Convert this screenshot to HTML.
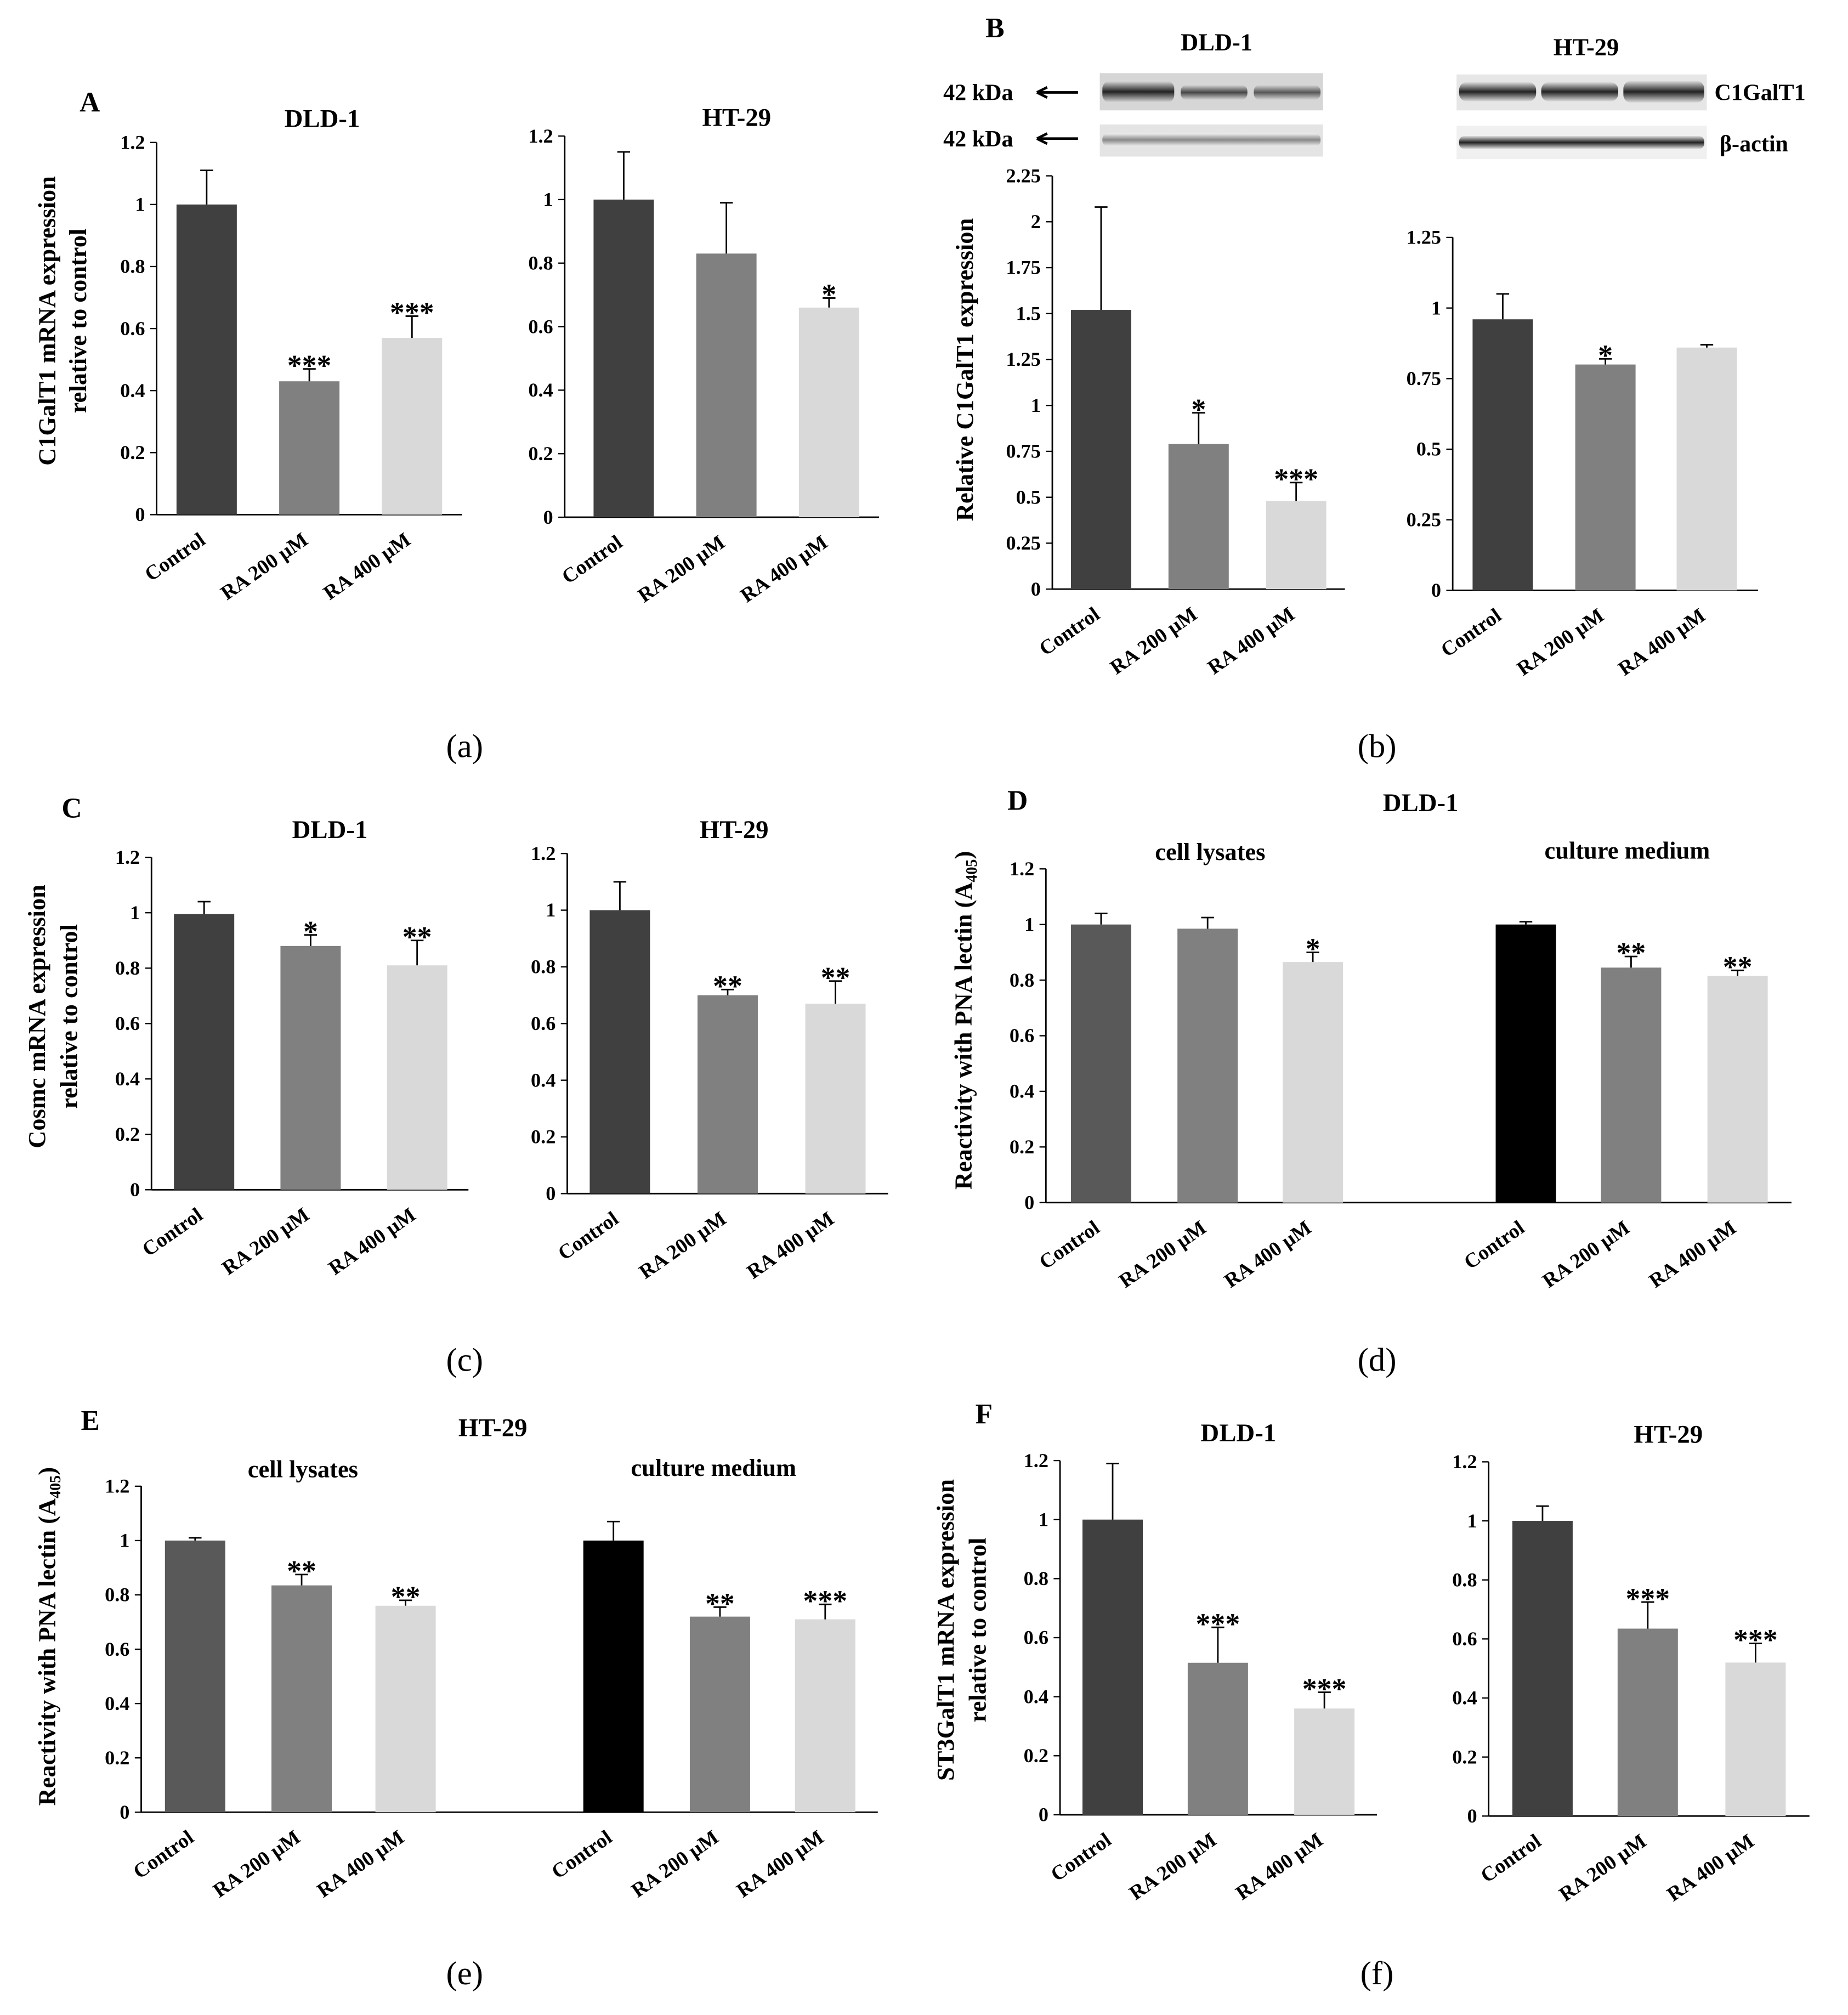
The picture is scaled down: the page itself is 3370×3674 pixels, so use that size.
<!DOCTYPE html>
<html><head><meta charset="utf-8"><style>
html,body{margin:0;padding:0;background:#fff;}
svg{display:block;}
text{font-family:"Liberation Serif",serif;font-weight:bold;fill:#000;}
</style></head><body>
<svg id="fig" width="3370" height="3674" viewBox="0 0 1440 1570" xmlns="http://www.w3.org/2000/svg">
<defs>
<linearGradient id="band" x1="0" y1="0" x2="0" y2="1"><stop offset="0" stop-color="#ddd"/><stop offset="0.5" stop-color="#222"/><stop offset="1" stop-color="#ddd"/></linearGradient>
<linearGradient id="bandL" x1="0" y1="0" x2="0" y2="1"><stop offset="0" stop-color="#eee"/><stop offset="0.5" stop-color="#888"/><stop offset="1" stop-color="#eee"/></linearGradient>
</defs>
<g id="static">
<text x="62" y="87" font-size="22">A</text>
<text x="768" y="29" font-size="22">B</text>
<text x="48" y="637" font-size="22">C</text>
<text x="785" y="631" font-size="22">D</text>
<text x="63" y="1114" font-size="22">E</text>
<text x="760" y="1109" font-size="22">F</text>
<text x="362" y="590" font-size="26" style="font-weight:normal" text-anchor="middle">(a)</text>
<text x="1073" y="590" font-size="26" style="font-weight:normal" text-anchor="middle">(b)</text>
<text x="362" y="1068" font-size="26" style="font-weight:normal" text-anchor="middle">(c)</text>
<text x="1073" y="1068" font-size="26" style="font-weight:normal" text-anchor="middle">(d)</text>
<text x="362" y="1546" font-size="26" style="font-weight:normal" text-anchor="middle">(e)</text>
<text x="1073" y="1546" font-size="26" style="font-weight:normal" text-anchor="middle">(f)</text>
<text x="948" y="39" font-size="19" text-anchor="middle">DLD-1</text>
<text x="1236" y="43" font-size="19" text-anchor="middle">HT-29</text>
<text x="735" y="78" font-size="18">42 kDa</text>
<text x="735" y="114" font-size="18">42 kDa</text>
<path d="M808 72H840M808 72l8-4M808 72l8 4M808 108H840M808 108l8-4M808 108l8 4" stroke="#000" stroke-width="2" fill="none"/>
<text x="1336" y="78" font-size="18">C1GalT1</text>
<text x="1340" y="118" font-size="18">β-actin</text>
<g>
<rect x="857" y="57" width="174" height="29" fill="#d6d6d6"/>
<rect x="859" y="63" width="56" height="17" rx="6" fill="url(#band)"/>
<rect x="920" y="66" width="52" height="12" rx="5" fill="url(#band)" opacity="0.8"/>
<rect x="977" y="66" width="52" height="12" rx="5" fill="url(#band)" opacity="0.7"/>
</g>
<g>
<rect x="857" y="97" width="174" height="25" fill="#e4e4e4"/>
<rect x="859" y="104" width="170" height="10" rx="4" fill="url(#bandL)"/>
</g>
<g>
<rect x="1135" y="58" width="195" height="28" fill="#e6e6e6"/>
<rect x="1137" y="64" width="60" height="15" rx="6" fill="url(#band)"/>
<rect x="1201" y="64" width="60" height="15" rx="6" fill="url(#band)"/>
<rect x="1265" y="63" width="63" height="17" rx="6" fill="url(#band)"/>
</g>
<g>
<rect x="1135" y="98" width="195" height="26" fill="#f0f0f0"/>
<rect x="1137" y="106" width="191" height="10" rx="4" fill="url(#band)"/>
</g>
</g>
<g id="charts"></g>
</svg>
<script>
const catsRA = ["Control", "RA 200 μM", "RA 400 μM"];
const valsA1 = [1.0, 0.43, 0.57];
const errA1 = [1.11, 0.47, 0.64];
const starsA1 = ["", "***", "***"];
const valsA2 = [1.0, 0.83, 0.66];
const errA2 = [1.15, 0.99, 0.69];
const starsA2 = ["", "", "*"];
const valsB1 = [1.52, 0.79, 0.48];
const errB1 = [2.08, 0.96, 0.58];
const starsB1 = ["", "*", "***"];
const valsB2 = [0.96, 0.80, 0.86];
const errB2 = [1.05, 0.82, 0.87];
const starsB2 = ["", "*", ""];
const valsC1 = [0.995, 0.88, 0.81];
const errC1 = [1.04, 0.92, 0.90];
const starsC1 = ["", "*", "**"];
const valsC2 = [1.0, 0.70, 0.67];
const errC2 = [1.10, 0.72, 0.75];
const starsC2 = ["", "**", "**"];
const valsD = [1.0, 0.985, 0.865, 1.0, 0.845, 0.815];
const errD = [1.04, 1.025, 0.90, 1.01, 0.885, 0.835];
const starsD = ["", "", "*", "", "**", "**"];
const valsE = [1.0, 0.835, 0.76, 1.0, 0.72, 0.71];
const errE = [1.01, 0.875, 0.78, 1.07, 0.755, 0.765];
const starsE = ["", "**", "**", "", "**", "***"];
const valsF1 = [1.0, 0.515, 0.36];
const errF1 = [1.19, 0.635, 0.415];
const starsF1 = ["", "***", "***"];
const valsF2 = [1.0, 0.635, 0.52];
const errF2 = [1.05, 0.725, 0.585];
const starsF2 = ["", "***", "***"];
const ticks12 = [0, 0.2, 0.4, 0.6, 0.8, 1, 1.2];
const ticksB1 = [0, 0.25, 0.5, 0.75, 1, 1.25, 1.5, 1.75, 2, 2.25];
const ticksB2 = [0, 0.25, 0.5, 0.75, 1, 1.25];

const NS = "http://www.w3.org/2000/svg";
const root = document.getElementById("charts");
const C3 = ["#404040", "#808080", "#d9d9d9"];
const C6a = ["#595959", "#808080", "#d9d9d9", "#000000", "#808080", "#d9d9d9"];

function mk(tag, attrs, parent) {
  const e = document.createElementNS(NS, tag);
  for (const k in attrs) e.setAttribute(k, attrs[k]);
  parent.appendChild(e);
  return e;
}

function panel(p) {
  const g = mk("g", {}, root);
  
  
  const ymax = p.ticks[p.ticks.length - 1];
  const y = v => p.y0 - (v / ymax) * (p.y0 - p.ytop);
  const ax = mk("line", {x1: p.ax, y1: p.ytop, x2: p.ax, y2: p.y0, stroke: "#000", "stroke-width": 1.2}, g);
  
  
  const bx = mk("line", {x1: p.ax, y1: p.y0, x2: p.xend, y2: p.y0, stroke: "#000", "stroke-width": 1.2}, g);
  
  
  p.ticks.forEach(t => {
    mk("line", {x1: p.ax - 5, y1: y(t), x2: p.ax, y2: y(t), stroke: "#000"}, g);
    const tl = mk("text", {x: p.ax - 9, y: y(t) + 5, "font-size": 15.5, "text-anchor": "end"}, g);
    tl.textContent = String(t);
    
    
  });
  p.vals.forEach((v, i) => {
    const cx = p.cx[i], w = 47;
    const r = mk("rect", {x: cx - w / 2, y: y(v), width: w, height: p.y0 - y(v), fill: p.colors[i]}, g);
    
    
    const e = p.err[i];
    if (e > v) {
      const el = mk("path", {d: `M${cx} ${y(v)}V${y(e)}M${cx - 5} ${y(e)}H${cx + 5}`, stroke: "#000", "stroke-width": 1.2, fill: "none"}, g);
      
      
    }
    if (p.stars[i]) {
      const s = mk("text", {x: cx, y: y(Math.max(e, v)) + 5, "font-size": 23, "text-anchor": "middle"}, g);
      s.textContent = p.stars[i];
      
      
    }
    const lx = cx, ly = p.y0 + 22;
    const xl = mk("text", {x: lx, y: ly, "font-size": 16, "text-anchor": "end", transform: `rotate(-35 ${lx} ${ly})`}, g);
    xl.textContent = p.cats[i % 3];
    
    
  });
  (p.titles || []).forEach(t => {
    const tt = mk("text", {x: t[0], y: t[1], "font-size": t[3] || 20, "text-anchor": "middle"}, g);
    tt.textContent = t[2];
    
    
  });
  (p.ytitle || []).forEach(t => {
    const yt = mk("text", {x: t[0], y: t[1], "font-size": 19, "text-anchor": "middle", transform: `rotate(-90 ${t[0]} ${t[1]})`}, g);
    yt.innerHTML = t[2];
    
    
  });
}

const pna = 'Reactivity with PNA lectin (A<tspan font-size="12" dy="4">405</tspan><tspan dy="-4">)</tspan>';
panel({name: "chart-a-dld1", ax: 122, y0: 401, ytop: 111, xend: 360, ticks: ticks12, cx: [161, 241, 321], vals: valsA1, err: errA1, stars: starsA1, cats: catsRA, colors: C3,
  titles: [[251, 99, "DLD-1"]], ytitle: [[43, 250, "C1GalT1 mRNA expression"], [67, 250, "relative to control"]]});
panel({name: "chart-a-ht29", ax: 440, y0: 403, ytop: 106, xend: 685, ticks: ticks12, cx: [486, 566, 646], vals: valsA2, err: errA2, stars: starsA2, cats: catsRA, colors: C3,
  titles: [[574, 98, "HT-29"]]});
panel({name: "chart-b-dld1", ax: 820, y0: 459, ytop: 137, xend: 1048, ticks: ticksB1, cx: [858, 934, 1010], vals: valsB1, err: errB1, stars: starsB1, cats: catsRA, colors: C3,
  ytitle: [[758, 288, "Relative C1GalT1 expression"]]});
panel({name: "chart-b-ht29", ax: 1132, y0: 460, ytop: 185, xend: 1370, ticks: ticksB2, cx: [1171, 1251, 1330], vals: valsB2, err: errB2, stars: starsB2, cats: catsRA, colors: C3});
panel({name: "chart-c-dld1", ax: 118, y0: 927, ytop: 668, xend: 365, ticks: ticks12, cx: [159, 242, 325], vals: valsC1, err: errC1, stars: starsC1, cats: catsRA, colors: C3,
  titles: [[257, 653, "DLD-1"]], ytitle: [[35, 792, "Cosmc mRNA expression"], [60, 792, "relative to control"]]});
panel({name: "chart-c-ht29", ax: 442, y0: 930, ytop: 665, xend: 692, ticks: ticks12, cx: [483, 567, 651], vals: valsC2, err: errC2, stars: starsC2, cats: catsRA, colors: C3,
  titles: [[572, 653, "HT-29"]]});
panel({name: "chart-d-dld1", ax: 815, y0: 937, ytop: 677, xend: 1396, ticks: ticks12, cx: [858, 941, 1023, 1189, 1271, 1354], vals: valsD, err: errD, stars: starsD, cats: catsRA, colors: C6a,
  titles: [[1107, 632, "DLD-1"], [943, 670, "cell lysates", 19], [1268, 669, "culture medium", 19]], ytitle: [[757, 795, pna]]});
panel({name: "chart-e-ht29", ax: 110, y0: 1412, ytop: 1158, xend: 684, ticks: ticks12, cx: [152, 235, 316, 478, 561, 643], vals: valsE, err: errE, stars: starsE, cats: catsRA, colors: C6a,
  titles: [[384, 1119, "HT-29"], [236, 1151, "cell lysates", 19], [556, 1150, "culture medium", 19]], ytitle: [[43, 1275, pna]]});
panel({name: "chart-f-dld1", ax: 826, y0: 1414, ytop: 1138, xend: 1073, ticks: ticks12, cx: [867, 949, 1032], vals: valsF1, err: errF1, stars: starsF1, cats: catsRA, colors: C3,
  titles: [[965, 1123, "DLD-1"]], ytitle: [[743, 1270, "ST3GalT1 mRNA expression"], [768, 1270, "relative to control"]]});
panel({name: "chart-f-ht29", ax: 1160, y0: 1415, ytop: 1139, xend: 1410, ticks: ticks12, cx: [1202, 1284, 1368], vals: valsF2, err: errF2, stars: starsF2, cats: catsRA, colors: C3,
  titles: [[1300, 1124, "HT-29"]]});
</script>
</body></html>
